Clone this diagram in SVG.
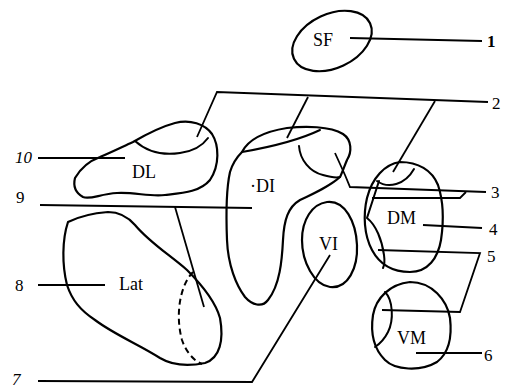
<svg xmlns="http://www.w3.org/2000/svg" width="506" height="389" viewBox="0 0 506 389">
  <style>
    .outline { fill: none; stroke: #000; stroke-width: 2.2; stroke-linejoin: round; stroke-linecap: round; }
    .inner { fill: none; stroke: #000; stroke-width: 2; stroke-linecap: round; }
    .dashed { fill: none; stroke: #000; stroke-width: 2; stroke-dasharray: 6 4; }
    .leader { fill: none; stroke: #000; stroke-width: 1.8; stroke-linejoin: miter; stroke-linecap: butt; }
    .name { font-family: "Liberation Serif", "Times New Roman", serif; font-size: 18px; fill: #000; }
    .num { font-family: "Liberation Serif", "Times New Roman", serif; font-size: 17px; fill: #000; }
  </style>
  <rect width="506" height="389" fill="#fff"/>

  <!-- SF nucleus -->
  <g id="SF">
    <ellipse class="outline" cx="332" cy="41" rx="42" ry="27" transform="rotate(-25 332 41)"/>
    <text class="name" x="313" y="46">SF</text>
  </g>

  <!-- DL nucleus -->
  <g id="DL">
    <path class="outline" d="M75,178 C82,166 92,160 100,157 C112,152 122,147 133,142 C145,135 160,127 175,123 C190,119 205,124 212,134 C219,145 220,165 210,180 C200,192 183,193 165,195 C150,197 135,192 117,193 C100,194 90,200 83,197 C76,193 73,186 75,178 Z"/>
    <path class="inner" d="M135,141 C145,150 160,156 180,153 C195,151 203,145 208,138"/>
    <text class="name" x="132" y="178">DL</text>
  </g>

  <!-- DI nucleus -->
  <g id="DI">
    <path class="outline" d="M242,152 C248,140 262,132 287,128 C305,126 330,126 343,134 C352,140 352,152 347,160 C344,167 342,173 340,177 C330,186 315,193 300,200 C288,207 284,220 283,240 C282,260 280,285 268,300 C262,308 252,305 245,297 C236,285 228,265 227,240 C226,215 226,190 230,172 C233,162 237,157 242,152 Z"/>
    <path class="inner" d="M242,152 C265,148 295,142 320,130"/>
    <path class="inner" d="M299,146 C300,160 310,172 323,175 C330,177 336,178 340,177"/>
    <text class="name" x="250" y="192">·DI</text>
  </g>

  <!-- Lat nucleus -->
  <g id="Lat">
    <path class="outline" d="M68,222 C62,240 62,265 67,285 C72,300 80,310 95,320 C115,335 140,345 160,358 C170,364 185,367 205,363 C220,358 224,340 220,318 C215,300 200,283 187,270 C170,255 150,243 135,225 C128,217 120,212 108,212 C95,213 80,216 68,222 Z"/>
    <path class="dashed" d="M193,272 C180,285 175,315 182,340 C186,352 194,361 202,364"/>
    <text class="name" x="119" y="290">Lat</text>
  </g>

  <!-- VI nucleus -->
  <g id="VI">
    <path class="outline" d="M327,202 C312,204 302,220 302,240 C302,262 314,285 330,287 C348,289 358,268 357,245 C356,222 345,200 327,202 Z"/>
    <text class="name" x="319" y="250">VI</text>
  </g>

  <!-- DM nucleus -->
  <g id="DM">
    <path class="outline" d="M400,162 C385,164 372,178 367,198 C363,215 364,235 372,250 C380,265 392,272 410,272 C428,272 438,258 441,240 C444,220 443,200 438,185 C432,170 418,162 400,162 Z"/>
    <path class="inner" d="M377,181 C388,189 405,185 414,169"/>
    <path class="inner" d="M379,181 L367,218 C376,225 382,240 384,255 C385,262 384,266 383,268"/>
    <text class="name" x="387" y="224">DM</text>
  </g>

  <!-- VM nucleus -->
  <g id="VM">
    <path class="outline" d="M410,282 C390,284 376,298 373,315 C370,335 375,350 385,360 C395,370 420,372 437,362 C450,352 452,335 450,318 C447,300 432,282 410,282 Z"/>
    <path class="inner" d="M385,292 C393,300 394,320 388,332 C384,340 378,345 375,347"/>
    <text class="name" x="397" y="344">VM</text>
  </g>

  <!-- leader lines -->
  <g id="connectors">
    <path class="leader" d="M350,38 L482,41"/>
    <path class="leader" d="M197,137 L217,92 L488,102"/>
    <path class="leader" d="M308,97 L287,138"/>
    <path class="leader" d="M435,101 L393,172"/>
    <path class="leader" d="M335,153 L345,175 L350,187 L486,192"/>
    <path class="leader" d="M372,198 L460,198 L466,192"/>
    <path class="leader" d="M423,225 L482,228"/>
    <path class="leader" d="M378,250 L480,253 L460,312 L382,310"/>
    <path class="leader" d="M416,353 L482,353"/>
    <path class="leader" d="M38,381 L252,382 L330,255"/>
    <path class="leader" d="M38,285 L105,285"/>
    <path class="leader" d="M40,205 L252,208"/>
    <path class="leader" d="M175,207 L204,307"/>
    <path class="leader" d="M38,158 L125,158"/>
  </g>

  <!-- index numbers -->
  <g id="labels">
    <text class="num" x="487" y="47" font-weight="bold">1</text>
    <text class="num" x="492" y="109">2</text>
    <text class="num" x="491" y="198">3</text>
    <text class="num" x="489" y="235">4</text>
    <text class="num" x="487" y="262">5</text>
    <text class="num" x="484" y="361">6</text>
    <text class="num" x="12" y="385" font-style="italic">7</text>
    <text class="num" x="15" y="291">8</text>
    <text class="num" x="16" y="203">9</text>
    <text class="num" x="15" y="163" font-style="italic">10</text>
  </g>
</svg>
